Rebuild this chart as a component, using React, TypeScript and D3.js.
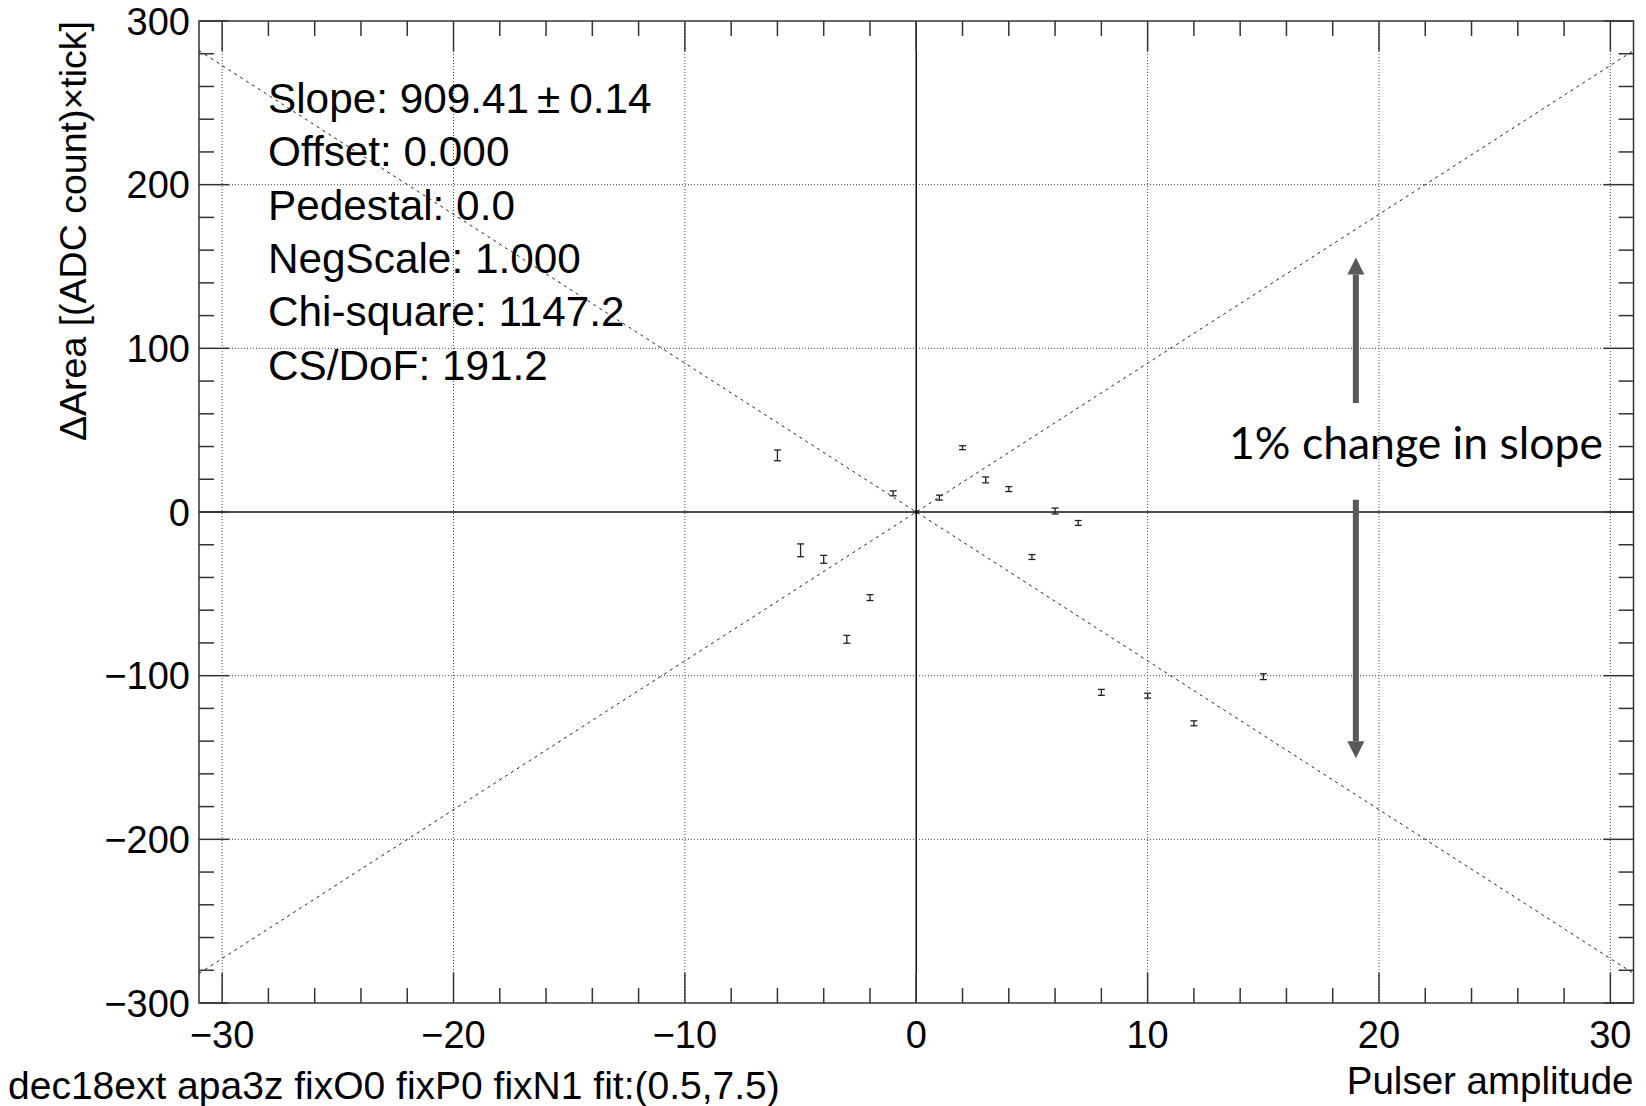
import React from "react";
import * as d3 from "d3";

// ---- data ----
const pulserAmp = [-6, -5, -4, -3, -2, -1, 0, 1, 2, 3, 4, 5, 6, 7, 8, 10, 12, 15];
const deltaArea = [34.6, -23.4, -28.9, -77.8, -52.3, 11.4, 0, 8.8, 39.3, 19.6, 14.0, -27.5, 0.6, -6.7, -110.2, -112.2, -129.1, -100.6];
const deltaErr = [3.3, 3.9, 2.4, 2.4, 1.8, 1.5, 0, 1.5, 1.2, 1.8, 1.5, 1.5, 1.8, 1.5, 1.8, 1.5, 1.5, 1.8];

const xMajorTicks = [-30, -20, -10, 0, 10, 20, 30];
const yMajorTicks = [-300, -200, -100, 0, 100, 200, 300];
const xMinorTicks = d3.range(-30, 31, 2);
const yMinorTicks = d3.range(-300, 301, 20);

const fitSlope = 909.41;
const slopeChange = 0.01; // 1% change
const statLines = ["Slope: 909.41", "Offset: 0.000", "Pedestal: 0.0", "NegScale: 1.000", "Chi-square: 1147.2", "CS/DoF: 191.2"];
const slopeErr = "0.14";

const xTitle = "Pulser amplitude";
const yTitle = "\u0394Area [(ADC count)\u00d7tick]";
const footer = "dec18ext apa3z fixO0 fixP0 fixN1 fit:(0.5,7.5)";
const annotation = "1% change in slope";
// annotation positions in data units
const arrowX = 19.0;
const arrowUp = [66.6, 155.5];
const arrowDown = [7.5, -150.5];
const annotX = 21.6;
const annotY = 32.5;

const W = 1646;
const H = 1106;
const frame = { left: 199, right: 1633.5, top: 21, bottom: 1003 };
const FONT = "'Liberation Sans', Arial, Helvetica, sans-serif";
const fmt = (v: number) => (v < 0 ? "\u2212" + Math.abs(v) : String(v));

export default function App() {
  const x = d3.scaleLinear().domain([-31, 31]).range([frame.left, frame.right]);
  const y = d3.scaleLinear().domain([-300, 300]).range([frame.bottom, frame.top]);

  const xs = [-31, 31];
  const slopeLine = (s: number) =>
    d3
      .line<number>()
      .x((d) => x(d))
      .y((d) => y(d * s))(xs) as string;

  const majorLen = 30;
  const minorLen = 15;
  const gray = "#595959";
  const head = 17;
  const shaft = 6;

  const arrow = (from: number, to: number) => {
    const x0 = x(arrowX);
    const y0 = y(from);
    const y1 = y(to);
    const dir = y1 < y0 ? 1 : -1; // 1 -> pointing up
    const base = y1 + dir * head;
    return (
      <g>
        <line x1={x0} x2={x0} y1={y0} y2={base} stroke={gray} strokeWidth={shaft} />
        <polygon points={`${x0},${y1} ${x0 - head / 2},${base} ${x0 + head / 2},${base}`} fill={gray} />
      </g>
    );
  };

  return (
    <div style={{ position: "fixed", left: 0, top: 0 }}>
      <svg width={W} height={H} style={{ display: "block", background: "#fff" }}>
        {/* grid */}
        {xMajorTicks
          .filter((t) => t !== 0)
          .map((t) => (
            <line key={"gx" + t} x1={x(t)} x2={x(t)} y1={frame.top} y2={frame.bottom} stroke="#444" strokeWidth={1} strokeDasharray="1 2" />
          ))}
        {yMajorTicks
          .filter((t) => t !== 0 && Math.abs(t) !== 300)
          .map((t) => (
            <line key={"gy" + t} x1={frame.left} x2={frame.right} y1={y(t)} y2={y(t)} stroke="#444" strokeWidth={1} strokeDasharray="1 2" />
          ))}
        {/* zero axes */}
        <line x1={x(0)} x2={x(0)} y1={frame.top} y2={frame.bottom} stroke="#111" strokeWidth={1.5} />
        <line x1={frame.left} x2={frame.right} y1={y(0)} y2={y(0)} stroke="#111" strokeWidth={1.5} />

        {/* +-1% slope lines */}
        <path d={slopeLine(fitSlope * slopeChange)} stroke="#222" strokeWidth={1} fill="none" strokeDasharray="3 4" />
        <path d={slopeLine(-fitSlope * slopeChange)} stroke="#222" strokeWidth={1} fill="none" strokeDasharray="3 4" />

        {/* ticks */}
        {xMinorTicks.map((t) => {
          const len = xMajorTicks.includes(t) ? majorLen : minorLen;
          return (
            <g key={"tx" + t}>
              <line x1={x(t)} x2={x(t)} y1={frame.bottom} y2={frame.bottom - len} stroke="#333" strokeWidth={1.5} />
              <line x1={x(t)} x2={x(t)} y1={frame.top} y2={frame.top + len} stroke="#333" strokeWidth={1.5} />
            </g>
          );
        })}
        {yMinorTicks.map((t) => {
          const len = yMajorTicks.includes(t) ? majorLen : minorLen;
          return (
            <g key={"ty" + t}>
              <line x1={frame.left} x2={frame.left + len} y1={y(t)} y2={y(t)} stroke="#333" strokeWidth={1.5} />
              <line x1={frame.right} x2={frame.right - len} y1={y(t)} y2={y(t)} stroke="#333" strokeWidth={1.5} />
            </g>
          );
        })}

        {/* data points with error bars */}
        {pulserAmp.map((px, i) => {
          const cx = x(px);
          const v = deltaArea[i];
          const e = deltaErr[i];
          if (e === 0) {
            return <circle key={"p" + i} cx={cx} cy={y(v)} r={2} fill="#111" />;
          }
          const yt = y(v + e);
          const yb = y(v - e);
          return (
            <g key={"p" + i} stroke="#222" strokeWidth={1.3}>
              <line x1={cx} x2={cx} y1={yt} y2={yb} />
              <line x1={cx - 3.5} x2={cx + 3.5} y1={yt} y2={yt} />
              <line x1={cx - 3.5} x2={cx + 3.5} y1={yb} y2={yb} />
            </g>
          );
        })}

        {/* frame */}
        <rect x={frame.left} y={frame.top} width={frame.right - frame.left} height={frame.bottom - frame.top} fill="none" stroke="#333" strokeWidth={1.5} />

        {/* tick labels */}
        {xMajorTicks.map((t) => (
          <text key={"lx" + t} x={x(t)} y={1048} textAnchor="middle" fontFamily={FONT} fontSize={38} fill="#000">
            {fmt(t)}
          </text>
        ))}
        {yMajorTicks.map((t) => (
          <text key={"ly" + t} x={190} y={y(t)} dy="0.36em" textAnchor="end" fontFamily={FONT} fontSize={38} fill="#000">
            {fmt(t)}
          </text>
        ))}

        {/* axis titles */}
        <text x={frame.right} y={1094} textAnchor="end" fontFamily={FONT} fontSize={38.5} fill="#000">
          {xTitle}
        </text>
        <text transform={`translate(86, ${frame.top}) rotate(-90)`} textAnchor="end" fontFamily={FONT} fontSize={37.5} fill="#000">
          {yTitle}
        </text>
        <text x={8} y={1099} fontFamily={FONT} fontSize={39} fill="#000">
          {footer}
        </text>

        {/* fit statistics */}
        {statLines.map((s, i) => (
          <text key={"st" + i} x={268} y={113 + i * 53.3} fontFamily={FONT} fontSize={42.3} fill="#000">
            {s}
            {i === 0 ? (
              <>
                <tspan dx={8}>{"\u00b1"}</tspan>
                <tspan dx={9}>{slopeErr}</tspan>
              </>
            ) : null}
          </text>
        ))}

        {/* annotation */}
        {arrow(arrowUp[0], arrowUp[1])}
        {arrow(arrowDown[0], arrowDown[1])}
        <text x={x(annotX)} y={y(annotY)} textAnchor="middle" fontFamily="Lato, 'Open Sans', sans-serif" fontSize={44.5} fill="#000">
          {annotation}
        </text>
      </svg>
    </div>
  );
}
